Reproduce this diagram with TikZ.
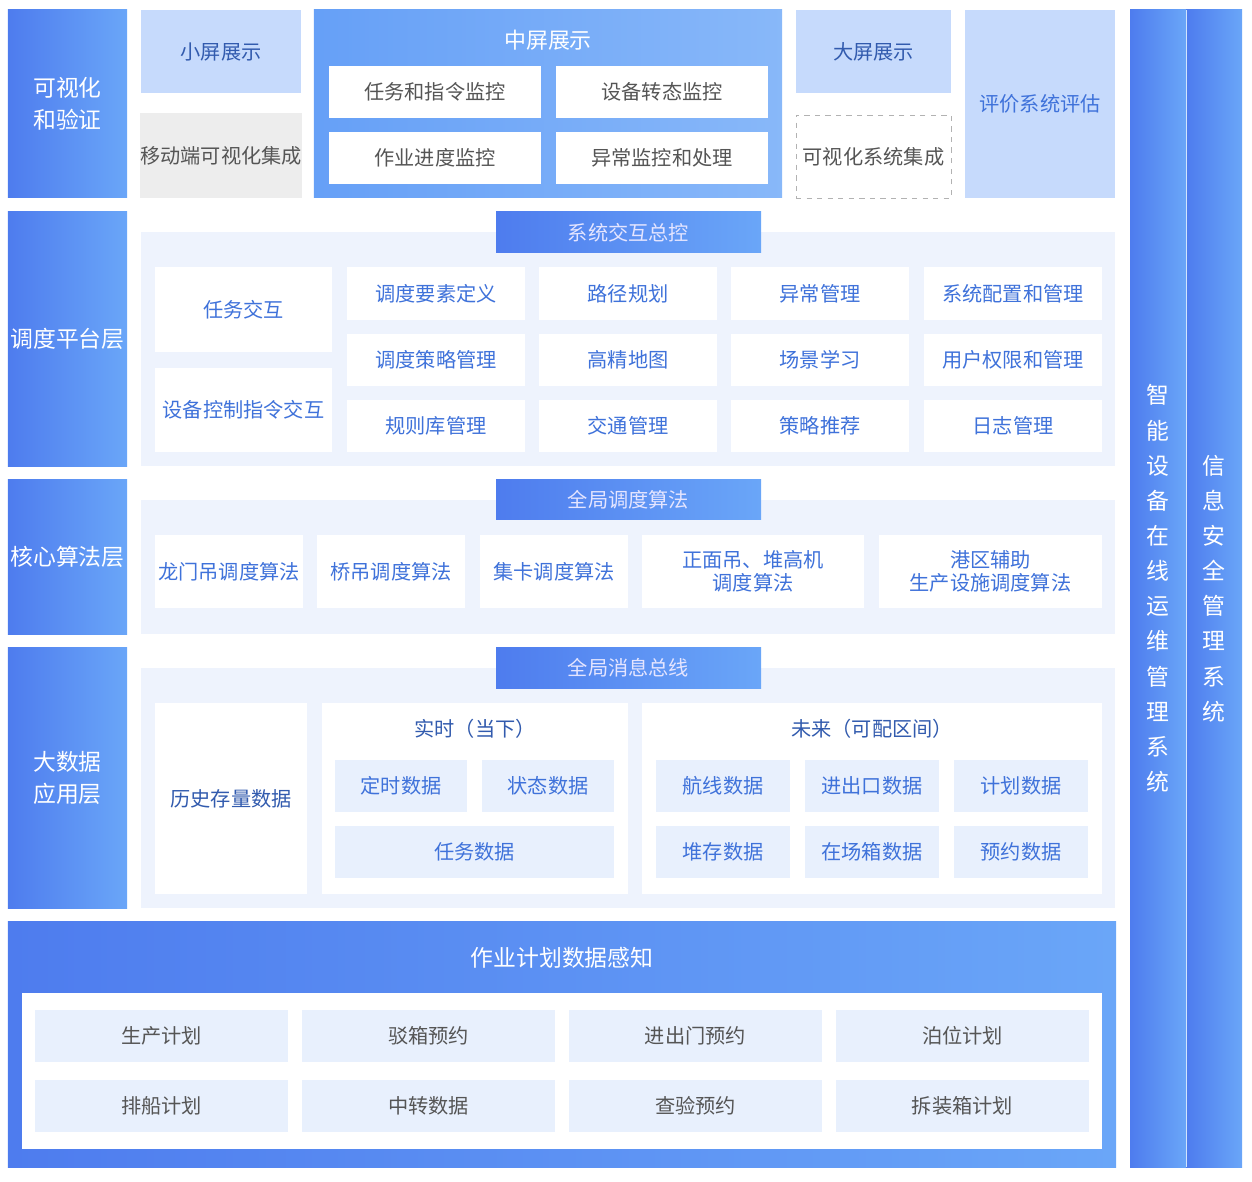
\documentclass[tikz,border=0pt]{standalone}
\usepackage{fontspec}
\setmainfont{Noto Sans CJK SC}
\usetikzlibrary{positioning}
\definecolor{deepblue}{HTML}{4E7CEE}
\definecolor{midblue}{HTML}{6AA6F8}
\definecolor{paleblue}{HTML}{C6DAFC}
\definecolor{panelbg}{HTML}{EEF3FD}
\definecolor{tilebg}{HTML}{E8F0FD}
\definecolor{bluetxt}{HTML}{3F72DA}
\definecolor{graytxt}{HTML}{555555}
\tikzset{
  layer/.style={left color=deepblue,right color=midblue,text=white,font=\fontsize{13}{18}\selectfont},
  header/.style={left color=deepblue,right color=midblue,text=white!90!blue,font=\fontsize{11.5}{14}\selectfont},
  pale/.style={fill=paleblue,text=bluetxt!80!black,font=\fontsize{11.5}{14}\selectfont},
  panel/.style={fill=panelbg},
  card/.style={fill=white,text=bluetxt,font=\fontsize{11.5}{15}\selectfont},
  graycard/.style={fill=white,text=graytxt,font=\fontsize{11.5}{15}\selectfont},
  tile/.style={fill=tilebg,text=bluetxt,font=\fontsize{11.5}{15}\selectfont},
  graytile/.style={fill=tilebg,text=graytxt,font=\fontsize{11.5}{15}\selectfont},
}
% box from pixel corners: name, x1, y1, x2, y2, style, text
\newcommand{\bx}[7]{%
  \pgfmathsetmacro{\bw}{(#4-#2)*0.02}\pgfmathsetmacro{\bh}{(#5-#3)*0.02}%
  \node[#6,minimum width=\bw cm,minimum height=\bh cm,inner sep=0pt,align=center]
    (#1) at ({(#2+#4)/2},{(#3+#5)/2}) {#7};}
\begin{document}
\begin{tikzpicture}[x=0.02cm,y=-0.02cm]
\useasboundingbox (0,0) rectangle (1252,1182);
% left layers
\bx{vis}{8}{10}{127}{198}{layer}{可视化\\和验证}
\bx{dispatch}{8}{212}{127}{466}{layer}{调度平台层}
\bx{core}{8}{480}{127}{634}{layer}{核心算法层}
\bx{bigdata}{8}{648}{127}{908}{layer}{大数据\\应用层}
% right bars
\bx{ops}{1130}{10}{1186}{1167}{layer,font=\fontsize{13}{20}\selectfont}{智\\能\\设\\备\\在\\线\\运\\维\\管\\理\\系\\统}
\bx{sec}{1186}{10}{1242}{1167}{layer,font=\fontsize{13}{20}\selectfont}{信\\息\\安\\全\\管\\理\\系\\统}
\draw[white!70!midblue] (1186,10) -- (1186,1167);
% top row
\bx{small}{141}{10}{301}{93}{pale}{小屏展示}
\bx{mobile}{141}{113}{301}{198}{fill=black!7,text=graytxt,font=\fontsize{11.5}{14}\selectfont}{移动端可视化集成}
\bx{mid}{314}{10}{782}{198}{layer,left color=midblue!85!deepblue,right color=midblue!80!white}{}
\node[text=white,font=\fontsize{12.5}{14}\selectfont] (midt) at (548,40) {中屏展示};
\bx{m1}{329}{66}{541}{118}{graycard}{任务和指令监控}
\bx{m2}{556}{66}{768}{118}{graycard}{设备转态监控}
\bx{m3}{329}{132}{541}{184}{graycard}{作业进度监控}
\bx{m4}{556}{132}{768}{184}{graycard}{异常监控和处理}
\bx{large}{796}{10}{951}{93}{pale}{大屏展示}
\bx{integ}{796}{115}{951}{198}{draw=black!30,dashed,text=graytxt,font=\fontsize{11.5}{14}\selectfont}{可视化系统集成}
\bx{eval}{965}{10}{1115}{198}{pale,text=bluetxt}{评价系统评估}
% dispatch panel
\bx{dp}{141}{232}{1115}{466}{panel}{}
\bx{dh}{496}{212}{761}{253}{header}{系统交互总控}
\bx{tinter}{155}{267}{332}{352}{card}{任务交互}
\bx{dinter}{155}{368}{332}{452}{card}{设备控制指令交互}
\foreach \c/\xa/\xb in {0/347/525,1/539/717,2/731/909,3/924/1102}
  \foreach \r/\ya/\yb in {0/267/320,1/334/386,2/400/452} {
    \pgfmathsetmacro{\k}{int(\r*4+\c)}
    \ifcase\k \def\lbl{调度要素定义}\or\def\lbl{路径规划}\or\def\lbl{异常管理}\or\def\lbl{系统配置和管理}%
    \or\def\lbl{调度策略管理}\or\def\lbl{高精地图}\or\def\lbl{场景学习}\or\def\lbl{用户权限和管理}%
    \or\def\lbl{规则库管理}\or\def\lbl{交通管理}\or\def\lbl{策略推荐}\or\def\lbl{日志管理}\fi
    \bx{g\c\r}{\xa}{\ya}{\xb}{\yb}{card}{\lbl}
  }
% core panel
\bx{cp}{141}{500}{1115}{634}{panel}{}
\bx{ch}{496}{480}{761}{520}{header}{全局调度算法}
\bx{a1}{155}{535}{303}{608}{card}{龙门吊调度算法}
\bx{a2}{317}{535}{465}{608}{card}{桥吊调度算法}
\bx{a3}{480}{535}{628}{608}{card}{集卡调度算法}
\bx{a4}{642}{535}{864}{608}{card,font=\fontsize{11.5}{13}\selectfont}{正面吊、堆高机\\调度算法}
\bx{a5}{879}{535}{1102}{608}{card,font=\fontsize{11.5}{13}\selectfont}{港区辅助\\生产设施调度算法}
% big data panel
\bx{bp}{141}{668}{1115}{908}{panel}{}
\bx{bh}{496}{648}{761}{688}{header}{全局消息总线}
\bx{hist}{155}{703}{307}{894}{card,text=bluetxt!80!black}{历史存量数据}
\bx{rt}{322}{703}{628}{894}{fill=white}{}
\node[text=bluetxt!80!black,font=\fontsize{11.5}{14}\selectfont] (rtt) at (475,729) {实时（当下）};
\bx{r1}{335}{760}{467}{812}{tile}{定时数据}
\bx{r2}{482}{760}{614}{812}{tile}{状态数据}
\bx{r3}{335}{826}{614}{878}{tile}{任务数据}
\bx{ft}{642}{703}{1102}{894}{fill=white}{}
\node[text=bluetxt!80!black,font=\fontsize{11.5}{14}\selectfont] (ftt) at (872,729) {未来（可配区间）};
\bx{f1}{656}{760}{790}{812}{tile}{航线数据}
\bx{f2}{805}{760}{939}{812}{tile}{进出口数据}
\bx{f3}{954}{760}{1088}{812}{tile}{计划数据}
\bx{f4}{656}{826}{790}{878}{tile}{堆存数据}
\bx{f5}{805}{826}{939}{878}{tile}{在场箱数据}
\bx{f6}{954}{826}{1088}{878}{tile}{预约数据}
% bottom layer
\bx{plan}{8}{922}{1116}{1167}{layer}{}
\node[text=white,font=\fontsize{13}{16}\selectfont] (plant) at (562,958) {作业计划数据感知};
\bx{pin}{22}{993}{1102}{1149}{fill=white}{}
\bx{p1}{35}{1010}{288}{1062}{graytile}{生产计划}
\bx{p2}{302}{1010}{555}{1062}{graytile}{驳箱预约}
\bx{p3}{569}{1010}{822}{1062}{graytile}{进出门预约}
\bx{p4}{836}{1010}{1089}{1062}{graytile}{泊位计划}
\bx{p5}{35}{1080}{288}{1132}{graytile}{排船计划}
\bx{p6}{302}{1080}{555}{1132}{graytile}{中转数据}
\bx{p7}{569}{1080}{822}{1132}{graytile}{查验预约}
\bx{p8}{836}{1080}{1089}{1132}{graytile}{拆装箱计划}
\end{tikzpicture}
\end{document}
